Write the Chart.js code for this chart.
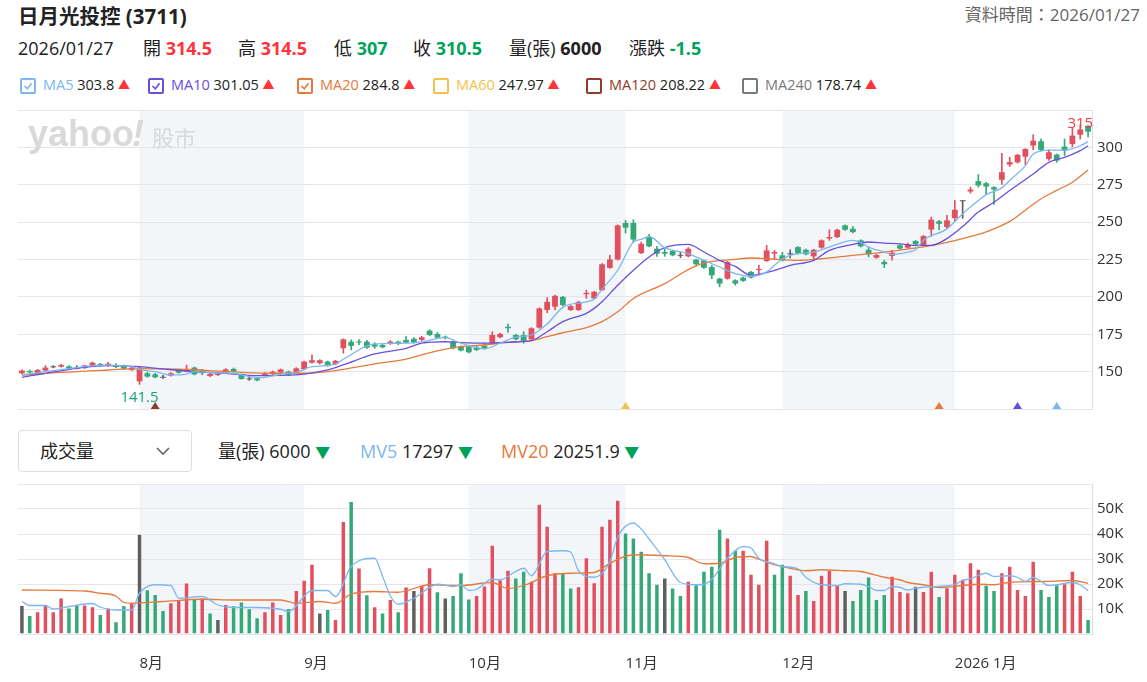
<!DOCTYPE html>
<html>
<head>
<meta charset="utf-8">
<script src="https://cdn.jsdelivr.net/npm/chart.js@4.4.0/dist/chart.umd.min.js"></script>
<style>
  body { margin: 0; background: #fff; font-family: "Open Sans", "Noto Sans CJK TC", sans-serif; color: #222; }
  #wrap { position: relative; width: 1147px; height: 682px; overflow: hidden; }
  .t { position: absolute; white-space: nowrap; }
  .cb { position: absolute; width: 12px; height: 12px; border: 2px solid; border-radius: 2px; top: 78px; }
  .cb svg { position: absolute; left: 0; top: 0; }
  canvas { position: absolute; left: 0; }
</style>
</head>
<body>
<div id="wrap">
  <div class="t" style="left:18px;top:3px;font-size:20.5px;font-weight:bold;line-height:26px;">日月光投控 (3711)</div>
  <div class="t" style="right:7px;top:3px;font-size:17px;color:#666;line-height:24px;">資料時間：2026/01/27</div>

  <div class="t" style="left:18px;top:36px;font-size:18px;line-height:24px;">2026/01/27</div>
  <div class="t" style="left:143px;top:36px;font-size:18px;line-height:24px;">開 <b style="color:#ff333a">314.5</b></div>
  <div class="t" style="left:238px;top:36px;font-size:18px;line-height:24px;">高 <b style="color:#ff333a">314.5</b></div>
  <div class="t" style="left:334px;top:36px;font-size:18px;line-height:24px;">低 <b style="color:#00a35a">307</b></div>
  <div class="t" style="left:413px;top:36px;font-size:18px;line-height:24px;">收 <b style="color:#00a35a">310.5</b></div>
  <div class="t" style="left:509px;top:36px;font-size:18px;line-height:24px;">量(張) <b>6000</b></div>
  <div class="t" style="left:629px;top:36px;font-size:18px;line-height:24px;">漲跌 <b style="color:#00a35a">-1.5</b></div>

  <div id="legend"></div>

  <div class="t" style="left:18px;top:430px;width:172px;height:40px;border:1px solid #ddd;border-radius:4px;"></div>
  <div class="t" style="left:40px;top:439px;font-size:18px;line-height:24px;">成交量</div>
  <svg class="t" style="left:156px;top:446px" width="14" height="10"><polyline points="1,2 7,8 13,2" fill="none" stroke="#666" stroke-width="1.6"/></svg>
  <div class="t" style="left:218px;top:439px;font-size:18px;line-height:24px;">量(張) 6000 <span style="color:#00a35a;font-size:15px">▼</span></div>
  <div class="t" style="left:360px;top:439px;font-size:18px;line-height:24px;"><span style="color:#7db7ef">MV5</span> 17297 <span style="color:#00a35a;font-size:15px">▼</span></div>
  <div class="t" style="left:501px;top:439px;font-size:18px;line-height:24px;"><span style="color:#e57a3c">MV20</span> 20251.9 <span style="color:#00a35a;font-size:15px">▼</span></div>

  <canvas id="price" width="1147" height="316" style="top:100px"></canvas>
  <canvas id="volume" width="1147" height="206" style="top:476px"></canvas>
</div>

<script>
// trading days per month
const julDays = [11,14,15,16,17,18,21,22,23,24,25,28,29,30,31];
const augDays = [1,4,5,6,7,8,11,12,13,14,15,18,19,20,21,22,25,26,27,28,29];
const sepDays = [1,2,3,4,5,8,9,10,11,12,15,16,17,18,19,22,23,24,25,26,30];
const octDays = [1,2,3,7,8,9,13,14,15,16,17,20,21,22,23,27,28,29,30,31];
const novDays = [3,4,5,6,7,10,11,12,13,14,17,18,19,20,21,24,25,26,27,28];
const decDays = [1,2,3,4,5,8,9,10,11,12,15,16,17,18,19,22,23,24,26,29,30,31];
const janDays = [2,5,6,7,8,9,12,13,14,15,16,19,20,21,22,23,26,27];

const monthTickLabels = ['8月', '9月', '10月', '11月', '12月', '2026 1月'];
const shadedMonths = [1, 3, 5]; // Aug, Oct, Dec (index into month list)

const open = [148.9,150.4,148.2,150.7,152.9,153.3,153.5,152.0,152.4,154.0,
155.1,153.8,154.4,154.0,151.1,143.5,148.9,148.2,145.9,147.3,
151.1,150.0,152.7,150.4,147.1,147.8,149.5,151.8,148.2,144.8,
145.5,147.3,148.2,149.5,150.0,148.9,151.6,156.0,155.6,156.7,
155.0,165.6,170.0,170.0,170.0,168.3,167.8,168.5,170.0,171.2,
172.0,171.2,177.4,175.2,173.4,170.0,166.7,166.7,166.3,167.2,
169.0,173.0,180.0,174.5,174.5,171.6,179.4,191.2,193.4,200.0,
191.2,191.2,201.8,199.0,204.5,219.4,225.0,249.4,249.4,229.3,
240.0,232.2,230.0,230.7,227.5,227.1,224.9,224.4,220.0,212.2,
212.2,211.1,212.9,216.7,218.0,224.0,229.0,227.8,228.5,233.3,
231.5,227.1,232.9,239.0,240.0,247.8,245.5,237.8,231.5,226.2,
223.4,227.4,234.5,232.9,237.4,234.5,245.0,250.5,246.7,252.7,
264.0,270.5,277.4,276.0,273.4,278.3,288.5,290.0,293.8,301.2,
304.1,292.3,295.2,300.5,302.3,308.5,314.5];
const high = [151.2,151.2,151.5,154.0,154.0,155.1,154.0,154.0,154.4,156.4,
155.6,156.2,155.3,154.4,153.3,153.1,149.5,148.9,147.6,149.3,
151.5,154.4,153.1,151.5,149.3,148.9,152.0,152.4,148.5,146.2,
145.8,149.3,150.4,151.8,150.4,152.7,157.1,161.2,158.0,157.1,
157.6,172.0,171.2,171.5,171.0,169.4,168.5,170.8,170.4,173.4,
172.7,173.6,178.0,176.2,173.8,170.4,167.2,167.0,167.0,169.0,
176.7,175.8,181.8,175.0,176.7,179.4,192.7,199.6,201.2,200.4,
194.2,197.1,204.5,203.8,222.2,227.8,248.2,251.2,251.6,236.7,
241.8,233.8,232.2,231.1,229.8,233.0,225.3,224.8,221.1,212.6,
223.7,211.5,213.3,217.1,221.1,234.4,231.1,229.8,231.5,233.7,
231.9,231.9,238.2,244.9,245.3,248.2,247.0,238.2,233.3,228.4,
224.5,231.2,234.9,236.0,237.8,241.1,253.4,251.2,254.5,264.5,
264.5,273.4,281.8,276.7,273.8,296.0,293.4,295.4,299.2,308.5,
305.6,298.3,295.6,305.6,313.4,315.0,314.5];
const low = [148.5,148.9,147.8,150.4,152.5,153.0,151.8,151.8,152.0,153.5,
153.5,153.5,152.7,151.8,150.7,141.5,146.2,145.8,145.5,146.9,
148.9,149.8,147.8,147.8,146.7,147.3,149.3,149.8,144.9,144.2,
143.8,147.1,147.8,149.1,147.3,148.7,151.1,155.6,155.1,153.5,
154.6,162.3,164.5,168.0,165.6,165.5,165.8,168.2,168.0,169.0,
169.0,170.8,174.0,172.3,171.8,165.2,163.8,162.5,164.0,165.2,
168.7,172.6,176.2,171.2,169.0,171.2,179.0,189.4,191.2,194.0,
190.8,190.8,199.0,198.6,204.1,219.0,224.6,242.7,236.7,228.9,
233.4,227.1,227.1,227.4,226.2,226.7,221.4,219.1,212.2,206.7,
211.8,207.8,210.3,212.5,214.5,223.6,224.9,224.0,226.0,228.6,
228.0,224.5,232.5,237.8,239.6,244.5,242.7,233.4,226.7,225.8,
219.6,224.5,231.9,232.5,234.1,234.1,240.5,245.0,245.6,250.7,
252.5,269.4,273.4,268.9,261.8,275.2,287.2,289.4,288.5,298.3,
297.4,291.2,290.0,294.5,300.5,305.6,307.0];
const close = [150.7,149.5,151.1,152.7,152.9,154.4,152.2,152.0,154.2,156.0,
153.8,155.3,153.1,152.0,152.7,152.7,146.7,146.2,145.9,148.9,
149.3,151.8,148.2,148.9,148.5,148.5,151.5,150.0,145.1,144.8,
144.2,148.9,150.0,151.5,147.8,152.2,156.7,157.6,157.6,153.8,
157.2,171.6,167.2,169.5,166.0,166.7,166.3,170.0,168.5,169.4,
169.4,173.0,174.5,172.7,172.7,165.6,164.1,162.9,164.5,165.6,
174.5,175.2,179.0,171.6,170.5,179.0,192.3,196.7,200.7,194.5,
193.8,196.7,202.7,203.4,221.8,225.0,247.8,246.3,238.3,235.5,
233.8,228.9,228.9,227.8,227.5,232.2,221.8,219.5,214.4,208.9,
223.3,208.9,210.7,212.9,218.4,231.1,230.0,224.4,228.5,229.0,
228.4,231.5,237.8,240.0,244.9,244.9,243.3,233.8,228.4,228.0,
221.8,229.6,232.3,235.2,235.2,240.7,251.6,248.9,251.2,258.3,
264.0,271.8,274.5,273.8,271.8,283.4,290.1,295.0,298.9,304.5,
298.3,296.7,291.2,297.8,307.9,312.0,310.5];

// volume in 張
const volume = [11600,7600,9100,12000,9100,14600,10600,11900,11800,11100,
8000,10600,5100,11500,12500,40100,17900,16000,9600,12700,
14000,20600,14000,14600,8600,6000,12000,11500,13000,10300,
6700,9100,13000,8000,10400,17600,21700,28100,8600,10000,
6000,45200,53200,26600,15900,11100,8600,14000,9100,19000,
17600,19700,26700,17100,14600,15600,24700,14200,15600,19400,
35700,21900,25700,22600,25300,21300,52100,43300,24700,24700,
18600,19100,30700,20700,43300,46100,53700,40600,38600,33300,
24700,20100,22600,18600,15600,21300,19900,25300,27300,42100,
38600,33700,33700,24100,20100,37700,24100,28100,23700,16000,
17600,13600,23700,25700,19700,17600,13600,18000,23000,14000,
16000,23300,17200,16700,19300,17200,25300,15200,18700,24100,
22100,28700,26100,19700,17600,24700,27300,18000,15600,29300,
18000,15200,19900,20300,25300,15600,6000];
// change vs previous close: u = up, d = down, n = unchanged
const volDir = "nduuuudduu" + "duddundddu" + "uududnuddd" + "duuuduuund" +
  "uududududu" + "nuudnddduu" + "uuudduuuud" + "duuuuuuddd" + "ddnddudddd" +
  "uduuuudduu" + "duuuundddd" + "duuunuuduu" + "uuudduuuuu" + "ddduuud";

// moving averages: [bar index, value]
const ma5 = [[0,147.8],[3,150],[7,152.7],[9,154],[11,154.4],[14,153.3],[15,151.5],[17,150],[19,147.8],
  [21,148.4],[22,150],[24,149.3],[27,148.9],[28,147.8],[30,146],[31,146.2],[33,148.2],[35,149.5],
  [37,153.3],[40,155],[41,158.3],[45,168.5],[49,169],[51,170],[54,172.7],[56,169],[59,165.2],
  [61,169],[63,173],[65,174.5],[67,181.8],[69,193],[72,196.7],[73,198.5],[74,205],[76,217.8],
  [78,236.7],[79,238.5],[80,240.4],[82,232.9],[85,228.9],[86,226.7],[89,220],[91,215.5],[93,213.8],
  [95,216.7],[96,221.1],[97,225.5],[99,228.9],[101,230],[103,233.3],[106,237.8],[107,236.5],
  [108,233.3],[110,230],[111,228.4],[113,230],[114,231.5],[115,237.8],[118,245.5],[120,255.6],
  [122,264.4],[123,268.4],[125,272.9],[126,277.8],[128,287.8],[129,295.5],[131,298.2],[133,298.2],
  [135,301.1],[136,303.8]];
const ma10 = [[0,146.2],[3,148.9],[7,152.2],[11,154],[15,153.3],[18,151.8],[22,150],[26,148.9],
  [30,147.3],[35,147.8],[39,151.1],[41,154.5],[45,161.8],[49,165.6],[51,169],[54,170],[56,169.4],
  [59,169],[61,169.4],[63,169.8],[65,170.7],[67,176.7],[69,183.4],[72,189],[73,192.3],[74,196.7],
  [76,207.8],[78,217.8],[80,226.7],[82,232.9],[85,235.1],[87,230],[89,224.4],[91,220.4],[93,214.4],
  [96,217.8],[98,221.1],[101,224.4],[103,231.1],[106,235.1],[108,236.7],[110,236],[112,235.5],
  [114,234.4],[116,234.4],[118,239],[120,247],[122,256.7],[124,263.3],[126,271.1],[129,282.2],
  [131,290],[133,293.3],[135,297.8],[136,301.05]];
const ma20 = [[0,147.6],[5,149.5],[11,151.1],[15,152],[20,151.6],[24,150.7],[28,149.5],[32,148.9],
  [36,148.9],[40,150.7],[45,155.2],[49,158.3],[51,161.2],[54,165],[56,166.7],[59,167.8],[61,169],
  [63,170],[65,170.7],[67,173.4],[69,176],[72,179.4],[74,183.4],[76,190],[78,198.9],[82,208.9],
  [85,218.2],[87,222.7],[91,225.1],[93,226],[95,225.5],[99,224.4],[102,225.5],[106,227.8],
  [110,230],[115,233.5],[118,236.5],[120,239],[123,243.5],[126,250.5],[128,258],[130,265.6],
  [132,271.2],[134,276.7],[136,284.8]];
const mv5 = [[0,13000],[1,11400],[3,11400],[4,10000],[6,11000],[9,12200],[10,10700],[12,9600],[14,9600],
  [15,16300],[17,19700],[19,19400],[20,14300],[23,15000],[25,11600],[27,10600],[30,10600],[33,9900],
  [34,9000],[37,17400],[39,17400],[40,15000],[42,27000],[45,30300],[46,23100],[47,15200],[48,11900],
  [50,14300],[53,19900],[55,19000],[56,19700],[57,17400],[58,17900],[60,21900],[61,21700],[63,25000],
  [64,26300],[65,23300],[67,33000],[69,33300],[70,32800],[71,25300],[73,22700],[75,29000],[76,38800],
  [78,44400],[79,42000],[80,38000],[82,29700],[84,20600],[86,19700],[87,19900],[88,21900],[90,30300],
  [92,35000],[93,34400],[94,30300],[96,28100],[97,27000],[99,26100],[100,22700],[102,19700],
  [104,19400],[105,20100],[107,19900],[108,19000],[109,17400],[110,17400],[111,19000],[112,18700],
  [113,17600],[114,18300],[115,18700],[117,19000],[119,19900],[120,21400],[121,22100],[123,24300],
  [124,23000],[126,23300],[127,22700],[128,21000],[129,22700],[130,21000],[131,19400],[132,19700],
  [134,20600],[135,19700],[136,17297]];
const mv20 = [[0,17600],[8,17200],[10,16300],[12,15200],[13,12600],[14,12300],[18,13000],[23,13900],
  [27,13600],[33,13600],[35,12300],[38,13000],[40,12300],[42,16000],[45,17000],[48,16700],[52,19700],
  [56,19400],[60,20600],[62,18200],[64,19400],[67,23300],[70,24300],[73,24600],[75,28300],[78,31700],
  [82,31300],[85,30600],[87,28100],[89,28300],[91,30600],[93,31000],[94,29900],[96,27700],[98,26300],
  [100,25300],[102,25700],[105,25300],[107,25000],[108,24300],[110,22700],[112,21700],[113,20600],
  [115,19700],[117,18600],[120,19400],[122,19900],[124,19700],[126,20700],[130,21000],[134,21400],
  [136,20251.9]];

// signal markers along the price axis floor
const markerIdx = [17, 77, 117, 127, 132];
const markerColors = ['#8e3b2b', '#f2c14e', '#e57a3c', '#6b4fdc', '#7db7ef'];

// legend row
const legendItems = [
  { name: 'MA5', value: '303.8', color: '#7db7ef', checked: true, x: 20 },
  { name: 'MA10', value: '301.05', color: '#6b4fdc', checked: true, x: 148 },
  { name: 'MA20', value: '284.8', color: '#e57a3c', checked: true, x: 297 },
  { name: 'MA60', value: '247.97', color: '#f2c14e', checked: false, x: 433 },
  { name: 'MA120', value: '208.22', color: '#8e3b2b', checked: false, x: 586 },
  { name: 'MA240', value: '178.74', color: '#7a7a7a', checked: false, x: 742 }
];

const UP = '#e0505e', DOWN = '#35a877', FLAT = '#5f5f5f';

// ---- build labels ----
const months = [['2025-07', julDays], ['2025-08', augDays], ['2025-09', sepDays], ['2025-10', octDays],
  ['2025-11', novDays], ['2025-12', decDays], ['2026-01', janDays]];
const dates = [];
const monthStart = [];
months.forEach(([m, days]) => {
  monthStart.push(dates.length);
  days.forEach(d => dates.push(m + '-' + String(d).padStart(2, '0')));
});
const tickIdx = monthStart.slice(1);
const tickText = {};
tickIdx.forEach((v, i) => { tickText[v] = monthTickLabels[i]; });

const legend = document.getElementById('legend');
legendItems.forEach(it => {
  const box = document.createElement('span');
  box.className = 'cb';
  box.style.left = it.x + 'px';
  box.style.borderColor = it.color;
  if (it.checked) {
    box.innerHTML = '<svg width="12" height="12"><polyline points="2.5,6 5.3,8.8 9.6,3.2" fill="none" stroke="' +
      it.color + '" stroke-width="1.6"/></svg>';
  }
  legend.appendChild(box);
  const txt = document.createElement('div');
  txt.className = 't';
  txt.style.cssText = 'left:' + (it.x + 23) + 'px;top:74px;font-size:14.5px;line-height:22px;';
  txt.innerHTML = '<span style="color:' + it.color + '">' + it.name + '</span> ' + it.value +
    ' <span style="color:#ff333a;font-size:12px">▲</span>';
  legend.appendChild(txt);
});

const candleColor = open.map((o, i) => close[i] > o ? UP : (close[i] < o ? DOWN : FLAT));
const volColor = volume.map((v, i) => volDir[i] === 'u' ? UP : (volDir[i] === 'd' ? DOWN : FLAT));
const toPts = arr => arr.map(([i, v]) => ({ x: dates[i], y: v }));

const bandPlugin = {
  id: 'bands',
  beforeDraw(chart) {
    const { ctx, chartArea: a, scales: { x } } = chart;
    ctx.save();
    ctx.fillStyle = '#f3f6f9';
    shadedMonths.forEach(m => {
      const x0 = x.getPixelForValue(monthStart[m]);
      const x1 = x.getPixelForValue(monthStart[m + 1]);
      ctx.fillRect(x0, a.top, x1 - x0, a.bottom - a.top);
    });
    ctx.restore();
  }
};

const priceDecor = {
  id: 'priceDecor',
  beforeDatasetsDraw(chart) {
    const { ctx, chartArea: a } = chart;
    ctx.save();
    ctx.fillStyle = '#d9d9d9';
    ctx.textBaseline = 'middle';
    ctx.font = 'bold 36px "Liberation Sans", sans-serif';
    ctx.fillText('yahoo', a.left + 10, a.top + 26);
    ctx.font = 'bold italic 36px "Liberation Sans", sans-serif';
    ctx.fillText('!', a.left + 114, a.top + 26);
    ctx.font = '22px "Noto Sans CJK TC", sans-serif';
    ctx.fillText('股市', a.left + 134, a.top + 28);
    ctx.restore();
  },
  afterDatasetsDraw(chart) {
    const { ctx, chartArea: a, scales: { x, y } } = chart;
    ctx.save();
    let hi = 0, lo = 0;
    high.forEach((v, i) => { if (v > high[hi]) hi = i; });
    low.forEach((v, i) => { if (v < low[lo]) lo = i; });
    ctx.font = '15px "Open Sans", sans-serif';
    ctx.textAlign = 'center';
    ctx.textBaseline = 'middle';
    ctx.fillStyle = '#f0404c';
    ctx.fillText(String(high[hi]), x.getPixelForValue(hi), y.getPixelForValue(high[hi]) - 1);
    ctx.fillStyle = '#17a37f';
    ctx.fillText(String(low[lo]), x.getPixelForValue(lo), y.getPixelForValue(low[lo]) + 13);
    markerIdx.forEach((m, k) => {
      const px = x.getPixelForValue(m);
      ctx.fillStyle = markerColors[k];
      ctx.beginPath();
      ctx.moveTo(px - 4.5, a.bottom);
      ctx.lineTo(px + 4.5, a.bottom);
      ctx.lineTo(px, a.bottom - 7);
      ctx.closePath();
      ctx.fill();
    });
    ctx.restore();
  }
};

const lineDs = (data, color, order) => ({
  type: 'line', data: toPts(data), borderColor: color, borderWidth: 1.3,
  pointRadius: 0, cubicInterpolationMode: 'monotone', order: order
});

const rightAxis = (min, max, step, fmt) => ({
  position: 'right', min: min, max: max,
  ticks: {
    stepSize: step, padding: 5, color: '#333',
    font: { size: 15, family: '"Open Sans", sans-serif' },
    callback: v => (v === min || v === max) ? '' : fmt(v)
  },
  grid: { color: '#e6e6ea', drawTicks: false },
  border: { display: true, color: '#dcdcdc' },
  afterFit: s => { s.width = 55; s.paddingTop = 0; s.paddingBottom = 0; }
});

new Chart(document.getElementById('price'), {
  type: 'bar',
  data: {
    labels: dates,
    datasets: [
      lineDs(ma5, '#7db7ef', 0),
      lineDs(ma10, '#6b4fdc', 0),
      lineDs(ma20, '#e57a3c', 0),
      {
        data: open.map((o, i) => [o, close[i]]), backgroundColor: candleColor,
        barPercentage: 0.74, categoryPercentage: 1, grouped: false, minBarLength: 1, order: 1
      },
      {
        data: low.map((l, i) => [l, high[i]]), backgroundColor: candleColor,
        barThickness: 1, grouped: false, order: 2
      }
    ]
  },
  options: {
    responsive: false, animation: false,
    layout: { padding: { left: 18, top: 10, bottom: 7, right: 0 } },
    plugins: { legend: { display: false }, tooltip: { enabled: false } },
    scales: {
      x: { display: false, offset: true },
      y: rightAxis(125, 325, 25, v => String(v))
    }
  },
  plugins: [bandPlugin, priceDecor]
});

new Chart(document.getElementById('volume'), {
  type: 'bar',
  data: {
    labels: dates,
    datasets: [
      lineDs(mv5, '#7db7ef', 0),
      lineDs(mv20, '#e57a3c', 0),
      {
        data: volume, backgroundColor: volColor, borderColor: 'rgba(255,255,255,0.35)', borderWidth: 1,
        barPercentage: 0.7, categoryPercentage: 1, order: 1
      }
    ]
  },
  options: {
    responsive: false, animation: false,
    layout: { padding: { left: 18, top: 8, bottom: 0, right: 0 } },
    plugins: { legend: { display: false }, tooltip: { enabled: false } },
    scales: {
      x: {
        offset: true,
        grid: { display: false, drawTicks: false },
        border: { display: false },
        ticks: {
          autoSkip: false, maxRotation: 0, align: 'start', padding: 21, color: '#333',
          font: { size: 15, family: '"Open Sans", "Noto Sans CJK TC", sans-serif' },
          callback: v => tickText[v] || ''
        },
        afterBuildTicks: s => { s.ticks = tickIdx.map(v => ({ value: v })); },
        afterFit: s => { s.height = 48; s.paddingLeft = 0; s.paddingRight = 0; }
      },
      y: rightAxis(0, 60000, 10000, v => (v / 1000) + 'K')
    }
  },
  plugins: [bandPlugin]
});
</script>
</body>
</html>
